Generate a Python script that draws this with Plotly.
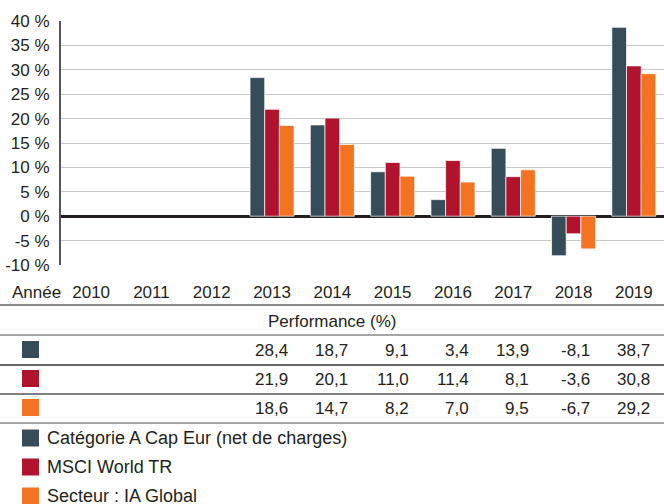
import plotly.graph_objects as go

years = ["2010", "2011", "2012", "2013", "2014", "2015", "2016", "2017", "2018", "2019"]
fund = [None, None, None, 28.4, 18.7, 9.1, 3.4, 13.9, -8.1, 38.7]
msci = [None, None, None, 21.9, 20.1, 11.0, 11.4, 8.1, -3.6, 30.8]
sector = [None, None, None, 18.6, 14.7, 8.2, 7.0, 9.5, -6.7, 29.2]
series_names = ["Catégorie A Cap Eur (net de charges)", "MSCI World TR", "Secteur : IA Global"]
colors = ["#364c59", "#b0132b", "#f37321"]
y_ticks = [-10, -5, 0, 5, 10, 15, 20, 25, 30, 35, 40]
y_tick_labels = [f"{v} %" for v in y_ticks]

W, H = 664, 504
TOP, BOTTOM = 21, 265
LEFT = 61
FONT = "Liberation Sans, Arial, Helvetica, sans-serif"
TXT = "#231f20"

xpos = list(range(len(years)))


def py(y):
    return (BOTTOM - y) / (BOTTOM - TOP)


def px(x):
    return (x - LEFT) / (W - LEFT)


fig = go.Figure()
for name, vals, c in zip(series_names, [fund, msci, sector], colors):
    fig.add_trace(go.Bar(
        x=xpos, y=vals, name=name, marker_color=c,
        marker_line=dict(color="rgba(255,255,255,0.7)", width=1),
        showlegend=False,
    ))

shapes = []
annotations = []

# table lines
for yy, col in [(305, "#666"), (335, "#888"), (365, "#333"), (394, "#555"), (423, "#888")]:
    shapes.append(dict(type="line", xref="paper", yref="paper",
                       x0=px(0), x1=px(W), y0=py(yy), y1=py(yy),
                       line=dict(color=col, width=1.5)))

annotations.append(dict(text="Année", xref="paper", yref="paper", x=px(10), y=py(292),
                        xanchor="left", yanchor="middle", showarrow=False,
                        font=dict(size=17, color=TXT, family=FONT)))
annotations.append(dict(text="Performance (%)", xref="paper", yref="paper", x=px(W / 2), y=py(321),
                        xanchor="center", yanchor="middle", showarrow=False,
                        font=dict(size=17, color=TXT, family=FONT)))

row_y = [350, 379, 408]
sq_y = [341, 370, 399]
for vals, c, ry, sy in zip([fund, msci, sector], colors, row_y, sq_y):
    shapes.append(dict(type="rect", xref="paper", yref="paper",
                       x0=px(22), x1=px(39), y0=py(sy), y1=py(sy + 17),
                       fillcolor=c, line=dict(width=0)))
    for i, v in zip(xpos, vals):
        if v is None:
            continue
        annotations.append(dict(text=f"{v:.1f}".replace(".", ","), xref="x", yref="paper",
                                x=i, y=py(ry), xanchor="right", yanchor="middle",
                                xshift=18, showarrow=False,
                                font=dict(size=17, color=TXT, family=FONT)))

leg_y = [438, 467, 496]
for name, c, ly in zip(series_names, colors, leg_y):
    shapes.append(dict(type="rect", xref="paper", yref="paper",
                       x0=px(22), x1=px(39), y0=py(ly - 8.5), y1=py(ly + 8.5),
                       fillcolor=c, line=dict(width=0)))
    annotations.append(dict(text=name, xref="paper", yref="paper", x=px(45), y=py(ly),
                            xanchor="left", yanchor="middle", showarrow=False,
                            font=dict(size=18, color=TXT, family=FONT)))

fig.update_layout(
    width=W, height=H,
    margin=dict(l=LEFT, r=0, t=TOP, b=H - BOTTOM, autoexpand=False),
    paper_bgcolor="white", plot_bgcolor="white",
    barmode="group", bargap=0.27, bargroupgap=0,
    font=dict(family=FONT, size=17, color=TXT),
    shapes=shapes, annotations=annotations,
    xaxis=dict(range=[-0.5, len(years) - 0.5], tickvals=xpos, ticktext=years,
               showgrid=False, showline=False, zeroline=False,
               ticks="outside", ticklen=12, tickcolor="rgba(0,0,0,0)",
               tickfont=dict(size=17, color=TXT)),
    yaxis=dict(range=[-10, 40], tickvals=y_ticks, ticktext=y_tick_labels,
               showgrid=True, gridcolor="#c8c8c8", gridwidth=1.3,
               zeroline=True, zerolinecolor="#231f20", zerolinewidth=2.5,
               showline=True, linecolor="#555555", linewidth=2,
               ticks="outside", ticklen=6, tickcolor="rgba(0,0,0,0)",
               tickfont=dict(size=17, color=TXT)),
)

fig.write_html("out.html", config={"displayModeBar": False},
               post_script="document.body.style.margin='0';document.body.style.overflow='hidden';")
